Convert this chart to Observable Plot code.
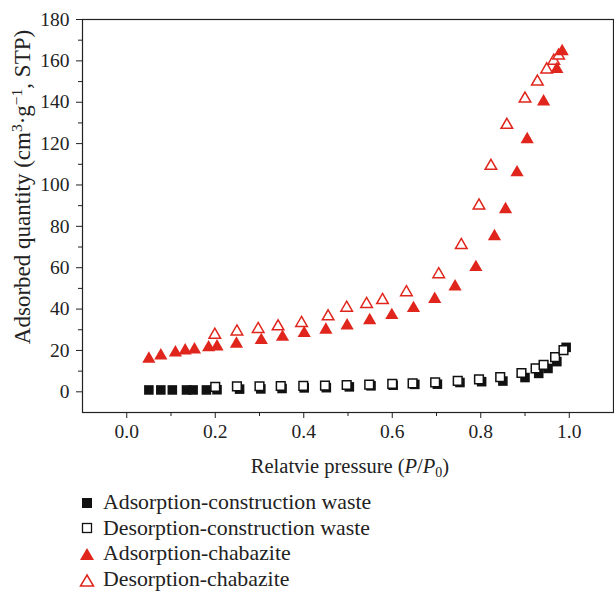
<!DOCTYPE html>
<html><head><meta charset="utf-8">
<script src="https://cdn.jsdelivr.net/npm/d3@7"></script>
<script src="https://cdn.jsdelivr.net/npm/@observablehq/plot@0.6"></script>
<style>
body{margin:0;background:#fff;font-family:"Liberation Serif",serif;}
#chart svg{display:block;}
.row{height:25.6px;display:flex;align-items:center;font-size:21.8px;color:#222;white-space:nowrap;}
.row svg{margin-left:79px;margin-right:8px;}
</style></head><body><div id="chart"></div><div id="legend"></div>
<script>
// Construction waste – adsorption (filled squares)
const cwAdsX = [0.05,0.077,0.103,0.135,0.15,0.18,0.204,0.255,0.303,0.351,0.401,0.451,0.503,0.552,0.602,0.651,0.702,0.753,0.802,0.85,0.9,0.931,0.952,0.972,0.993];
const cwAdsY = [0.9,0.9,0.9,0.9,0.9,0.9,1.0,1.3,1.4,1.6,1.9,2.0,2.4,2.9,3.2,3.6,3.7,4.5,4.9,5.2,6.9,8.9,11.3,14.6,21.5];
// Construction waste – desorption (open squares)
const cwDesX = [0.2,0.249,0.3,0.348,0.399,0.448,0.497,0.548,0.6,0.646,0.697,0.748,0.796,0.844,0.892,0.924,0.942,0.968,0.987];
const cwDesY = [2.4,2.6,2.7,2.8,2.9,3.0,3.3,3.5,3.8,4.1,4.6,5.3,6.0,7.1,9.1,11.3,13.0,16.8,20.2];
// Chabazite – adsorption (filled triangles)
const chAdsX = [0.05,0.077,0.11,0.132,0.153,0.185,0.204,0.248,0.304,0.352,0.401,0.45,0.498,0.549,0.599,0.648,0.696,0.742,0.789,0.831,0.856,0.882,0.905,0.942,0.972,0.984];
const chAdsY = [15.9,17.5,18.9,19.9,20.4,21.4,21.8,23.2,24.9,26.5,28.3,29.9,32.0,34.5,37.0,40.4,44.8,50.8,60.2,75.1,88.2,106,122,140.3,156,164.6];
// Chabazite – desorption (open triangles)
const chDesX = [0.199,0.249,0.297,0.342,0.395,0.455,0.497,0.542,0.578,0.632,0.705,0.756,0.796,0.823,0.859,0.9,0.928,0.949,0.965,0.976];
const chDesY = [27.5,29.1,30.3,31.6,33.2,36.4,40.6,42.4,44.3,48.1,56.8,70.9,90,109.2,129,141.7,149.9,155.8,160,162.5];

const xTicks = [0,0.2,0.4,0.6,0.8,1.0];
const xMinor = [0.1,0.3,0.5,0.7,0.9];
const yTicks = [0,20,40,60,80,100,120,140,160,180];
const yMinor = [10,30,50,70,90,110,130,150,170];
const seriesNames = ["Adsorption-construction waste","Desorption-construction waste","Adsorption-chabazite","Desorption-chabazite"];

const red = "#e0261c";
const toRows = (xs, ys) => xs.map((x, i) => ({x, y: ys[i]}));

const svg = Plot.plot({
  width: 614, height: 490,
  marginLeft: 82, marginRight: 1, marginTop: 19, marginBottom: 78,
  style: {fontFamily: "Liberation Serif", fontSize: "19.5px", color: "#222", background: "#fff"},
  x: {domain: [-0.1, 1.1]},
  y: {domain: [-10, 180]},
  marks: [
    Plot.axisX({ticks: xTicks, tickFormat: d3.format(".1f"), tickSize: 6, tickPadding: 6, label: null}),
    Plot.axisX({ticks: xMinor, tickFormat: () => "", tickSize: 4, label: null}),
    Plot.axisY({ticks: yTicks, tickSize: 6, tickPadding: 7, label: null}),
    Plot.axisY({ticks: yMinor, tickFormat: () => "", tickSize: 4, label: null}),
    Plot.frame({stroke: "#222", strokeWidth: 1.2}),
    Plot.dot(toRows(cwAdsX, cwAdsY), {x: "x", y: "y", symbol: "square", r: 5.4, fill: "#111", stroke: "none"}),
    Plot.dot(toRows(cwDesX, cwDesY), {x: "x", y: "y", symbol: "square", r: 4.9, fill: "#fff", stroke: "#111", strokeWidth: 1.5}),
    Plot.dot(toRows(chDesX, chDesY), {x: "x", y: "y", symbol: "triangle", r: 4.3, fill: "#fff", stroke: red, strokeWidth: 1.5}),
    Plot.dot(toRows(chAdsX, chAdsY), {x: "x", y: "y", symbol: "triangle", r: 4.9, fill: red, stroke: "none"})
  ]
});

const s = d3.select(svg);
// x-axis label
const xl = s.append("text").attr("x", 350).attr("y", 473).attr("text-anchor", "middle")
  .attr("font-size", 20.5).attr("fill", "#222");
xl.append("tspan").text("Relatvie pressure (");
xl.append("tspan").attr("font-style", "italic").text("P");
xl.append("tspan").text("/");
xl.append("tspan").attr("font-style", "italic").text("P");
xl.append("tspan").attr("font-size", 14).attr("dy", 4).text("0");
xl.append("tspan").attr("dy", -4).text(")");
// y-axis label
const yl = s.append("text").attr("transform", "translate(30,187) rotate(-90)").attr("text-anchor", "middle")
  .attr("font-size", 23).attr("fill", "#222");
yl.append("tspan").text("Adsorbed quantity (cm");
yl.append("tspan").attr("font-size", 15.5).attr("dy", -8).text("3");
yl.append("tspan").attr("dy", 8).text("·g");
yl.append("tspan").attr("font-size", 15.5).attr("dy", -8).text("−1");
yl.append("tspan").attr("dy", 8).text(", STP)");

document.getElementById("chart").appendChild(svg);

// legend
const legend = d3.select("#legend");
const markers = [
  g => g.append("rect").attr("x", 3).attr("y", 3).attr("width", 10).attr("height", 10).attr("fill", "#111"),
  g => g.append("rect").attr("x", 3.5).attr("y", 3.5).attr("width", 9).attr("height", 9).attr("fill", "#fff").attr("stroke", "#111").attr("stroke-width", 1.3),
  g => g.append("path").attr("d", "M8,2L15,14L1,14Z").attr("fill", red),
  g => g.append("path").attr("d", "M8,3L14.5,14L1.5,14Z").attr("fill", "#fff").attr("stroke", red).attr("stroke-width", 1.5)
];
seriesNames.forEach((name, i) => {
  const row = legend.append("div").attr("class", "row");
  const m = row.append("svg").attr("width", 16).attr("height", 16);
  markers[i](m);
  row.append("span").text(name);
});
</script>
</body></html>
